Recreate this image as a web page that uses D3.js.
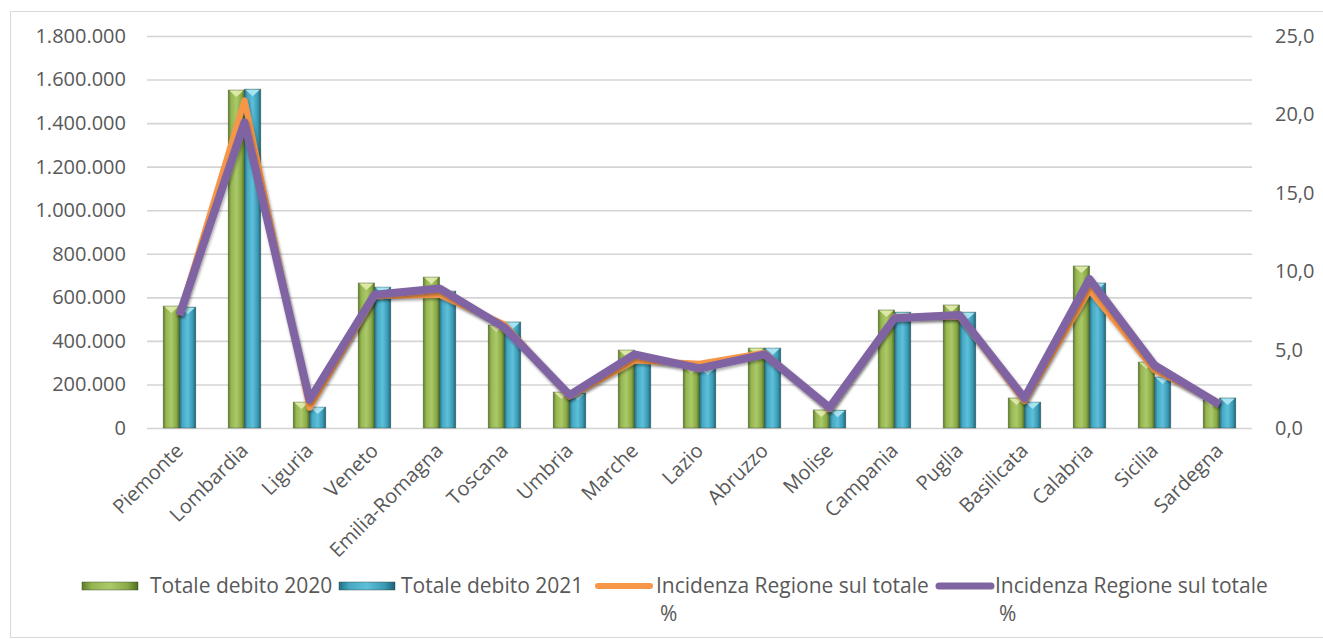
<!DOCTYPE html>
<html lang="it">
<head>
  <meta charset="UTF-8">
  <title>Totale debito per regione</title>
  <script src="https://d3js.org/d3.v7.min.js"></script>
  <style>
    body { margin: 0; background: #fff; }
    text { font-family: "Open Sans", sans-serif; fill: #595959; }
  </style>
</head>
<body>
<svg id="chart" width="1323" height="639"></svg>
<script>
  // dati
  const regioni = ["Piemonte", "Lombardia", "Liguria", "Veneto", "Emilia-Romagna", "Toscana", "Umbria",
    "Marche", "Lazio", "Abruzzo", "Molise", "Campania", "Puglia", "Basilicata", "Calabria", "Sicilia", "Sardegna"];
  const debito2020 = [560000, 1552000, 119000, 666000, 693000, 473000, 165000, 358000, 280000, 367000,
    83000, 542000, 565000, 138000, 744000, 303000, 129000];
  const debito2021 = [555000, 1556000, 96000, 647000, 629000, 487000, 160000, 335000, 275000, 367000,
    82000, 532000, 532000, 119000, 666000, 234000, 138000];
  const incidenza2020 = [7.2, 20.9, 1.3, 8.4, 8.5, 6.6, 2.0, 4.3, 4.1, 4.8, 1.2, 7.1, 7.1, 1.7, 8.8, 3.7, 1.6];
  const incidenza2021 = [7.2, 19.5, 1.8, 8.5, 8.9, 6.4, 2.1, 4.7, 3.8, 4.7, 1.3, 7.0, 7.2, 1.9, 9.5, 4.0, 1.5];
  const tickSinistra = [0, 200000, 400000, 600000, 800000, 1000000, 1200000, 1400000, 1600000, 1800000];
  const tickDestra = [0, 5, 10, 15, 20, 25];
  const legenda = ["Totale debito 2020", "Totale debito 2021", "Incidenza Regione sul totale %", "Incidenza Regione sul totale %"];

  const it = d3.formatLocale({ decimal: ",", thousands: ".", grouping: [3], currency: ["€", ""] });

  const svg = d3.select("#chart");
  const mLeft = 147, mRight = 1252, mTop = 36, mBottom = 428;

  const defs = svg.append("defs");
  function gradiente(id, stops) {
    const g = defs.append("linearGradient").attr("id", id).attr("x1", "0").attr("x2", "1").attr("y1", "0").attr("y2", "0");
    stops.forEach(s => g.append("stop").attr("offset", s[0]).attr("stop-color", s[1]));
  }
  gradiente("gVerde", [["0%", "#5f7d25"], ["18%", "#96b652"], ["50%", "#abc968"], ["82%", "#88a846"], ["100%", "#4f6b1c"]]);
  gradiente("gBlu", [["0%", "#1f6f86"], ["18%", "#47a8c2"], ["50%", "#5dc0da"], ["82%", "#3a98b2"], ["100%", "#1b627a"]]);
  const ombra = defs.append("filter").attr("id", "ombra").attr("x", "-10%").attr("y", "-10%").attr("width", "120%").attr("height", "130%");
  ombra.append("feDropShadow").attr("dx", 1).attr("dy", 2).attr("stdDeviation", 1.5).attr("flood-opacity", 0.35);

  // cornice
  svg.append("rect").attr("x", 10.5).attr("y", 11.5).attr("width", 1330).attr("height", 626)
    .attr("fill", "#fff").attr("stroke", "#d9d9d9");

  const x = d3.scaleBand().domain(regioni).range([mLeft, mRight]);
  const yL = d3.scaleLinear().domain([0, 1800000]).range([mBottom, mTop]);
  const yR = d3.scaleLinear().domain([0, 25]).range([mBottom, mTop]);

  // asse sinistro + griglia
  const axL = svg.append("g").attr("transform", `translate(${mLeft},0)`)
    .call(d3.axisLeft(yL).tickValues(tickSinistra).tickFormat(it.format(",.0f")).tickSize(-(mRight - mLeft)).tickPadding(21));
  axL.select(".domain").remove();
  axL.selectAll("line").attr("stroke", "#d4d4d4").attr("stroke-width", 1.6);
  axL.selectAll("text").attr("font-size", 20).style("fill", "#595959");

  // asse destro
  const axR = svg.append("g").attr("transform", `translate(${mRight},0)`)
    .call(d3.axisRight(yR).tickValues(tickDestra).tickFormat(it.format(".1f")).tickSize(0).tickPadding(23));
  axR.select(".domain").remove();
  axR.selectAll("text").attr("font-size", 20).style("fill", "#595959");

  // etichette categorie
  const axB = svg.append("g").attr("transform", `translate(0,${mBottom})`)
    .call(d3.axisBottom(x).tickSize(0));
  axB.select(".domain").remove();
  axB.selectAll("text")
    .attr("font-size", 20).style("fill", "#595959")
    .attr("text-anchor", "end")
    .attr("transform", "translate(0,19) rotate(-45)")
    .attr("dy", "0.35em").attr("y", 0).attr("x", 0);

  // barre
  const bw = x.bandwidth() * 0.25;
  function barre(valori, grad, cap, off) {
    const g = svg.append("g");
    g.selectAll("rect").data(valori).join("rect")
      .attr("x", (d, i) => x(regioni[i]) + x.bandwidth() / 2 + off)
      .attr("y", d => yL(d))
      .attr("width", bw)
      .attr("height", d => mBottom - yL(d))
      .attr("fill", `url(#${grad})`)
      .attr("stroke", "rgba(40,60,40,0.45)").attr("stroke-width", 0.8);
    g.selectAll("path").data(valori).join("path")
      .attr("d", (d, i) => {
        const x0 = x(regioni[i]) + x.bandwidth() / 2 + off, y0 = yL(d);
        return `M${x0 + 1},${y0 + 0.5} L${x0 + bw - 1},${y0 + 0.5} L${x0 + bw / 2},${y0 + 7} Z`;
      })
      .attr("fill", cap);
  }
  barre(debito2020, "gVerde", "#dde8a6", -bw);
  barre(debito2021, "gBlu", "#a8e3f2", 0);

  // linee
  const linea = d3.line().x((d, i) => x(regioni[i]) + x.bandwidth() / 2).y(d => yR(d));
  svg.append("path").datum(incidenza2020).attr("d", linea)
    .attr("fill", "none").attr("stroke", "#f79646").attr("stroke-width", 6)
    .attr("stroke-linejoin", "round").attr("filter", "url(#ombra)");
  svg.append("path").datum(incidenza2021).attr("d", linea)
    .attr("fill", "none").attr("stroke", "#8064a2").attr("stroke-width", 8)
    .attr("stroke-linejoin", "round").attr("filter", "url(#ombra)");

  // legenda
  const leg = svg.append("g");
  const ly = 586;
  const swX = [82, 339, 595, 936];
  const txX = [150, 401, 656, 995];
  const tipi = ["barra", "barra", "linea", "linea"];
  const colori = ["gVerde", "gBlu", "#f79646", "#8064a2"];
  legenda.forEach((t, i) => {
    const sx = swX[i];
    if (tipi[i] === "barra") {
      leg.append("rect").attr("x", sx).attr("y", ly - 4).attr("width", 56).attr("height", 8)
        .attr("fill", `url(#${colori[i]})`).attr("stroke", "rgba(40,60,40,0.5)").attr("stroke-width", 0.8);
      leg.append("text").attr("x", txX[i]).attr("y", ly).attr("dy", "0.35em")
        .attr("font-size", 21).text(t);
    } else {
      leg.append("line").attr("x1", sx + 3).attr("x2", sx + 55).attr("y1", ly).attr("y2", ly)
        .attr("stroke", colori[i]).attr("stroke-width", i === 2 ? 6 : 7).attr("stroke-linecap", "round");
      const parole = t.split(" ");
      const ultima = parole.pop();
      leg.append("text").attr("x", txX[i]).attr("y", ly).attr("dy", "0.35em")
        .attr("font-size", 21).text(parole.join(" "));
      leg.append("text").attr("x", txX[i] + 4).attr("y", ly + 28).attr("dy", "0.35em")
        .attr("font-size", 21).text(ultima);
    }
  });
</script>
</body>
</html>
